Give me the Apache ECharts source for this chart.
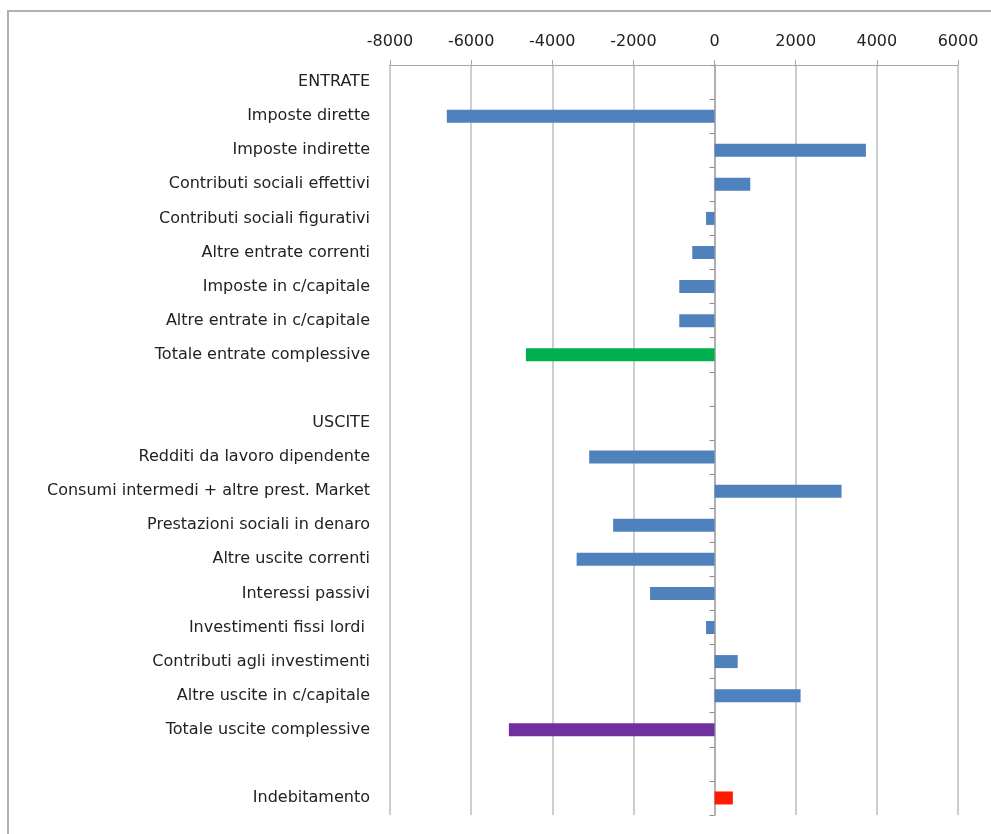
<!DOCTYPE html>
<html>
<head>
<meta charset="utf-8">
<script src="https://cdn.jsdelivr.net/npm/echarts@6/dist/echarts.min.js"></script>
<style>
  html, body { margin: 0; padding: 0; background: #fff; }
  #chart { width: 991px; height: 834px; }
</style>
</head>
<body>
<div id="chart"></div>
<script>
// voci di entrata / uscita (righe vuote come separatori)
var categories = [
    'ENTRATE',
    'Imposte dirette',
    'Imposte indirette',
    'Contributi sociali effettivi',
    'Contributi sociali figurativi',
    'Altre entrate correnti',
    'Imposte in c/capitale',
    'Altre entrate in c/capitale',
    'Totale entrate complessive',
    ' ',
    'USCITE',
    'Redditi da lavoro dipendente',
    'Consumi intermedi + altre prest. Market',
    'Prestazioni sociali in denaro',
    'Altre uscite correnti',
    'Interessi passivi',
    'Investimenti fissi lordi ',
    'Contributi agli investimenti',
    'Altre uscite in c/capitale',
    'Totale uscite complessive',
    '  ',
    'Indebitamento'
];
var values = [
    null, -6600, 3730, 880, -210, -550, -870, -870, -4650,
    null,
    null, -3090, 3130, -2500, -3400, -1590, -210, 570, 2120, -5070,
    null,
    450
];
// colore per riga: blu per le voci, totali evidenziati
var barColors = [
    '#4f81bd', '#4f81bd', '#4f81bd', '#4f81bd', '#4f81bd', '#4f81bd', '#4f81bd', '#4f81bd', '#00b050',
    '#4f81bd',
    '#4f81bd', '#4f81bd', '#4f81bd', '#4f81bd', '#4f81bd', '#4f81bd', '#4f81bd', '#4f81bd', '#4f81bd', '#7030a0',
    '#4f81bd',
    '#ff1a00'
];
var xTicks = { min: -8000, max: 6000, interval: 2000 };

(function() {
    var chart = echarts.init(document.getElementById('chart'));
    var FONT = '"DejaVu Sans", sans-serif';

    var seriesData = values.map(function(v, i) {
        return { value: v, itemStyle: { color: barColors[i] } };
    });

    var option = {
        animation: false,
        backgroundColor: '#fff',
        graphic: [{
            type: 'rect',
            shape: { x: 8, y: 11, width: 1200, height: 1000 },
            style: { fill: 'none', stroke: '#b0b0b0', lineWidth: 2 },
            silent: true
        }],
        grid: { left: 390, right: 33, top: 65, bottom: 19 },
        xAxis: {
            type: 'value',
            position: 'top',
            min: xTicks.min,
            max: xTicks.max,
            interval: xTicks.interval,
            axisLine: { show: true, onZero: false, lineStyle: { color: '#a6a6a6', width: 1 } },
            axisTick: { show: true, length: 5, lineStyle: { color: '#a6a6a6' } },
            splitLine: { show: true, lineStyle: { color: '#bdbdbd', width: 1.5 } },
            axisLabel: {
                color: '#222', fontFamily: FONT, fontSize: 16, margin: 15,
                formatter: function(v) { return String(v); }
            }
        },
        yAxis: [{
            // etichette a sinistra
            type: 'category',
            inverse: true,
            data: categories,
            axisLine: { show: false, onZero: false },
            axisTick: { show: false },
            axisLabel: { color: '#222', fontFamily: FONT, fontSize: 16, margin: 20, interval: 0 }
        }, {
            // asse dello zero con tacche
            type: 'category',
            inverse: true,
            data: categories,
            position: 'left',
            axisLine: { show: true, onZero: true, lineStyle: { color: '#a6a6a6', width: 1.5 } },
            axisTick: { show: true, length: 5, interval: 0, lineStyle: { color: '#8c8c8c' } },
            axisLabel: { show: false }
        }],
        series: [{
            type: 'bar',
            yAxisIndex: 0,
            barWidth: 13,
            data: seriesData
        }]
    };
    chart.setOption(option);
})();
</script>
</body>
</html>
